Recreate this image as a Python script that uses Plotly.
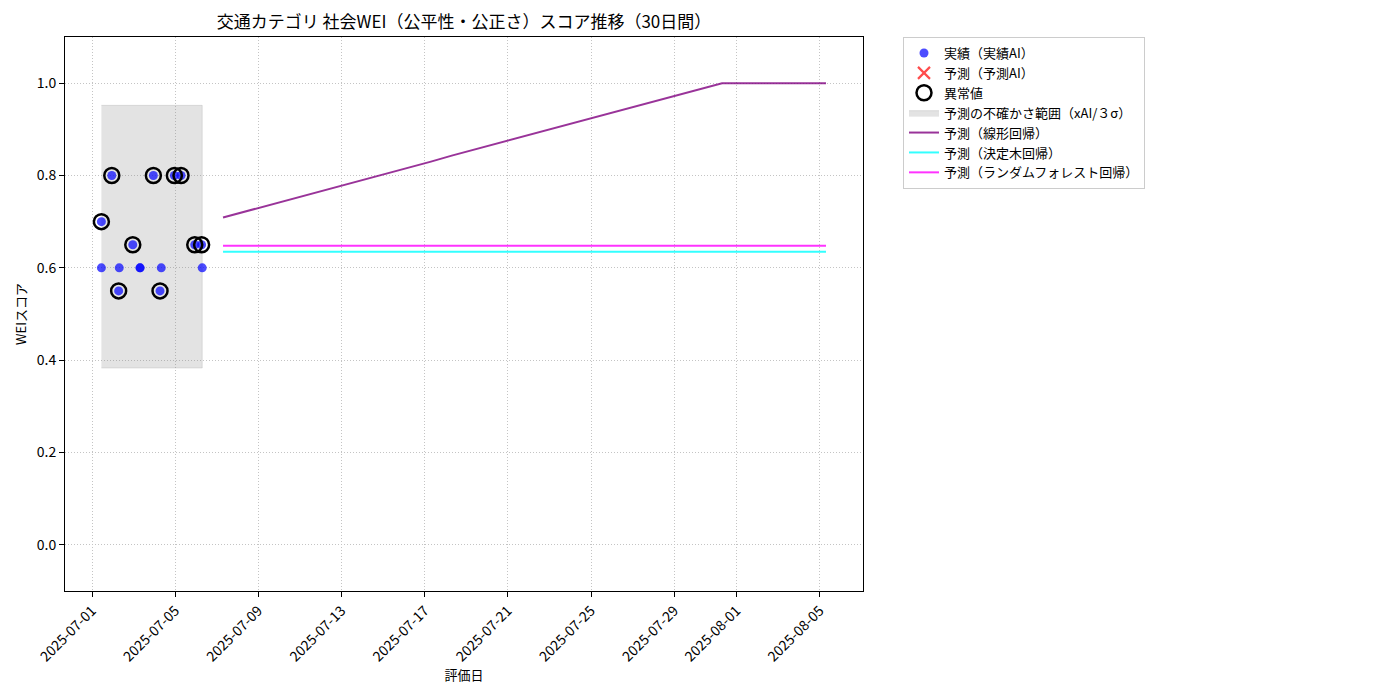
import plotly.graph_objects as go

# 実績データ（評価日時, スコア）
actual_dates = [
    '2025-07-01 10:48', '2025-07-01 10:48', '2025-07-01 22:48', '2025-07-02 06:43',
    '2025-07-02 07:26', '2025-07-02 23:02', '2025-07-03 07:26', '2025-07-03 07:26',
    '2025-07-03 22:48', '2025-07-04 06:29', '2025-07-04 07:55', '2025-07-04 23:02',
    '2025-07-05 06:43', '2025-07-05 22:34', '2025-07-06 06:29', '2025-07-06 07:12',
]
actual_scores = [0.70, 0.60, 0.80, 0.55, 0.60, 0.65, 0.60, 0.60,
                 0.80, 0.55, 0.60, 0.80, 0.80, 0.65, 0.65, 0.60]

anomaly_dates = [
    '2025-07-01 10:48', '2025-07-01 22:48', '2025-07-02 06:43', '2025-07-02 23:02',
    '2025-07-03 22:48', '2025-07-04 06:29', '2025-07-04 23:02', '2025-07-05 06:43',
    '2025-07-05 22:34', '2025-07-06 06:29',
]
anomaly_scores = [0.70, 0.80, 0.55, 0.65, 0.80, 0.55, 0.80, 0.80, 0.65, 0.65]

# 不確かさ範囲
band_dates = ['2025-07-01 10:48', '2025-07-06 07:12']
band_lower = [0.383, 0.383]
band_upper = [0.952, 0.952]

# 予測（30日間）
pred_dates = [f'2025-07-{d:02d} 07:12' for d in range(7, 32)] + \
             [f'2025-08-{d:02d} 07:12' for d in range(1, 6)]
pred_linear = [0.709, 0.721, 0.733, 0.745, 0.758, 0.770, 0.782, 0.794, 0.806, 0.818,
               0.830, 0.843, 0.855, 0.867, 0.879, 0.891, 0.903, 0.915, 0.927, 0.940,
               0.952, 0.964, 0.976, 0.988, 1.000, 1.000, 1.000, 1.000, 1.000, 1.000]
pred_tree = [0.635] * 30
pred_forest = [0.648] * 30

x_ticks = ['2025-07-01', '2025-07-05', '2025-07-09', '2025-07-13', '2025-07-17',
           '2025-07-21', '2025-07-25', '2025-07-29', '2025-08-01', '2025-08-05']
y_ticks = [0.0, 0.2, 0.4, 0.6, 0.8, 1.0]

FONT = 'Noto Sans CJK JP'

fig = go.Figure()

fig.add_trace(go.Scatter(
    x=band_dates + band_dates[::-1],
    y=band_upper + band_lower[::-1],
    fill='toself', mode='lines',
    fillcolor='rgba(128,128,128,0.22)',
    line=dict(width=0.8, color='rgba(128,128,128,0.25)'),
    name='予測の不確かさ範囲（xAI/３σ）',
    legendrank=4,
))

fig.add_trace(go.Scatter(
    x=actual_dates, y=actual_scores, mode='markers',
    marker=dict(size=9, color='rgba(0,0,255,0.7)'),
    name='実績（実績AI）', legendrank=1,
))

fig.add_trace(go.Scatter(
    x=[None], y=[None], mode='markers',
    marker=dict(size=12, symbol='x-thin', line=dict(width=2.2, color='rgba(255,0,0,0.7)')),
    name='予測（予測AI）', legendrank=2,
))

fig.add_trace(go.Scatter(
    x=anomaly_dates, y=anomaly_scores, mode='markers',
    marker=dict(size=15, color='rgba(0,0,0,0)', line=dict(width=2.5, color='black')),
    name='異常値', legendrank=3,
))

fig.add_trace(go.Scatter(
    x=pred_dates, y=pred_linear, mode='lines',
    line=dict(width=2, color='rgba(128,0,128,0.8)'),
    name='予測（線形回帰）', legendrank=5,
))
fig.add_trace(go.Scatter(
    x=pred_dates, y=pred_tree, mode='lines',
    line=dict(width=2, color='rgba(0,255,255,0.8)'),
    name='予測（決定木回帰）', legendrank=6,
))
fig.add_trace(go.Scatter(
    x=pred_dates, y=pred_forest, mode='lines',
    line=dict(width=2, color='rgba(255,0,255,0.8)'),
    name='予測（ランダムフォレスト回帰）', legendrank=7,
))

axis_common = dict(
    showline=True, mirror=True, linecolor='black', linewidth=1,
    ticks='outside', ticklen=5, tickcolor='black',
    showgrid=True, gridcolor='#c4c4c4', griddash='1px,2px', gridwidth=0.8,
    zeroline=False, tickfont=dict(size=14, color='black'),
)

# the page body adds an 8px offset, so margins are shifted to compensate
fig.update_layout(
    width=1400, height=700,
    font=dict(family=FONT, color='black'),
    title=dict(text='交通カテゴリ 社会WEI（公平性・公正さ）スコア推移（30日間）',
               x=(57 + 855) / 2 / 1400, xanchor='center', y=1 - 14 / 700, yanchor='middle',
               font=dict(size=17)),
    margin=dict(l=57, r=545, t=29, b=117),
    paper_bgcolor='white', plot_bgcolor='white',
    xaxis=dict(
        **axis_common, type='date',
        range=['2025-06-29 16:48', '2025-08-07 01:55'],
        tickvals=x_ticks, ticktext=x_ticks, tickangle=-45,
        title=dict(text='評価日', font=dict(size=13), standoff=3),
    ),
    yaxis=dict(
        **axis_common, range=[-0.1, 1.1],
        tickvals=y_ticks, ticktext=[f'{v:.1f}' for v in y_ticks],
        title=dict(text='WEIスコア', font=dict(size=13), standoff=7),
    ),
    legend=dict(
        x=(903 - 65) / 798, y=1.0, xanchor='left', yanchor='top',
        bordercolor='#cccccc', borderwidth=1, bgcolor='white',
        font=dict(size=13), tracegroupgap=0,
    ),
)

fig.write_html('out.html')
